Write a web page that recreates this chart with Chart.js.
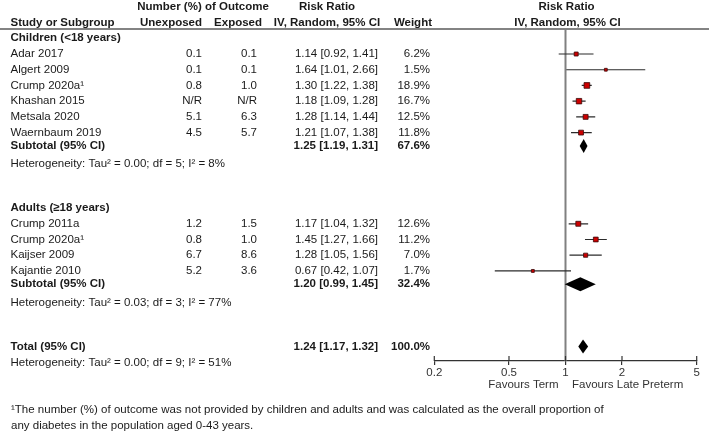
<!DOCTYPE html>
<html>
<head>
<meta charset="utf-8">
<script src="https://cdn.jsdelivr.net/npm/chart.js@4/dist/chart.umd.min.js"></script>
<style>
html,body{margin:0;padding:0;background:#fff;}
#wrap{width:709px;height:432px;}
</style>
</head>
<body>
<div id="wrap"><canvas id="c" width="709" height="432"></canvas></div>
<script>
// ---------- data ----------
const groupLabels = ["Children (<18 years)", "Adults (\u226518 years)"];

const childStudies   = ["Adar 2017", "Algert 2009", "Crump 2020a\u00B9", "Khashan 2015", "Metsala 2020", "Waernbaum 2019"];
const childUnexposed = ["0.1", "0.1", "0.8", "N/R", "5.1", "4.5"];
const childExposed   = ["0.1", "0.1", "1.0", "N/R", "6.3", "5.7"];
const childRR        = [1.14, 1.64, 1.30, 1.18, 1.28, 1.21];
const childLower     = [0.92, 1.01, 1.22, 1.09, 1.14, 1.07];
const childUpper     = [1.41, 2.66, 1.38, 1.28, 1.44, 1.38];
const childWeight    = [6.2, 1.5, 18.9, 16.7, 12.5, 11.8];

const adultStudies   = ["Crump 2011a", "Crump 2020a\u00B9", "Kaijser 2009", "Kajantie 2010"];
const adultUnexposed = ["1.2", "0.8", "6.7", "5.2"];
const adultExposed   = ["1.5", "1.0", "8.6", "3.6"];
const adultRR        = [1.17, 1.45, 1.28, 0.67];
const adultLower     = [1.04, 1.27, 1.05, 0.42];
const adultUpper     = [1.32, 1.66, 1.56, 1.07];
const adultWeight    = [12.6, 11.2, 7.0, 1.7];

const subtotalRR     = [1.25, 1.20];
const subtotalLower  = [1.19, 0.99];
const subtotalUpper  = [1.31, 1.45];
const subtotalWeight = [67.6, 32.4];
const subtotalHet    = ["Heterogeneity: Tau\u00B2 = 0.00; df = 5; I\u00B2 = 8%",
                        "Heterogeneity: Tau\u00B2 = 0.03; df = 3; I\u00B2 = 77%"];

const totalRR = 1.24, totalLower = 1.17, totalUpper = 1.32, totalWeight = 100.0;
const totalHet = "Heterogeneity: Tau\u00B2 = 0.00; df = 9; I\u00B2 = 51%";

const xTickValues = [0.2, 0.5, 1, 2, 5];
const nullValue = 1;
const favoursLeft = "Favours Term";
const favoursRight = "Favours Late Preterm";
const footnoteLines = [
  "\u00B9The number (%) of outcome was not provided by children and adults and was calculated as the overall proportion of",
  "any diabetes in the population aged 0-43 years."
];

// ---------- row layout (row steps, not data) ----------
const STEP = 1, SUB_STEP = 0.85, HET_STEP = 1.15, GAP_STEP = 2.8, TOTAL_HET_STEP = 1.05;
const groups = [
  {label: groupLabels[0], studies: childStudies, unexp: childUnexposed, exp: childExposed, rr: childRR, lo: childLower, hi: childUpper, w: childWeight},
  {label: groupLabels[1], studies: adultStudies, unexp: adultUnexposed, exp: adultExposed, rr: adultRR, lo: adultLower, hi: adultUpper, w: adultWeight}
];
const studyRows = [], textRows = [], summaryRows = [];
let r = 0;
groups.forEach((g, gi) => {
  textRows.push({row: r, kind: 'group', label: g.label});
  g.studies.forEach((s, i) => {
    r += STEP;
    studyRows.push({row: r, name: s, unexp: g.unexp[i], exp: g.exp[i], rr: g.rr[i], lo: g.lo[i], hi: g.hi[i], w: g.w[i]});
  });
  r += SUB_STEP;
  summaryRows.push({row: r, label: "Subtotal (95% CI)", rr: subtotalRR[gi], lo: subtotalLower[gi], hi: subtotalUpper[gi], w: subtotalWeight[gi]});
  r += HET_STEP;
  textRows.push({row: r, kind: 'het', label: subtotalHet[gi]});
  r += GAP_STEP;
});
summaryRows.push({row: r, label: "Total (95% CI)", rr: totalRR, lo: totalLower, hi: totalUpper, w: totalWeight});
r += TOTAL_HET_STEP;
textRows.push({row: r, kind: 'het', label: totalHet});

const rrText = (rr, lo, hi) => `${rr.toFixed(2)} [${lo.toFixed(2)}, ${hi.toFixed(2)}]`;

// ---------- datasets ----------
const ciDatasets = studyRows.map(s => ({
  type: 'scatter',
  data: [{x: s.lo, y: s.row}, {x: s.hi, y: s.row}],
  showLine: true,
  borderColor: '#2b2b2b',
  borderWidth: 1.2,
  pointRadius: 0,
  order: 2
}));
const squareDataset = {
  type: 'scatter',
  data: studyRows.map(s => ({x: s.rr, y: s.row, w: s.w})),
  pointStyle: 'rect',
  pointRadius: ctx => 1.2 + 0.65 * Math.sqrt(ctx.raw ? ctx.raw.w : 1),
  backgroundColor: '#cc0000',
  borderColor: '#3a0a0a',
  borderWidth: 0.8,
  order: 1
};

const FONT = '"Liberation Sans", Arial, Helvetica, sans-serif';
const TXT = '#1a1a1a';

const forestPlugin = {
  id: 'forest',
  beforeDatasetsDraw(chart) {
    const {ctx, chartArea, scales: {x}} = chart;
    ctx.save();
    ctx.strokeStyle = '#5a5a5a';
    ctx.lineWidth = 1.5;
    ctx.beginPath();
    ctx.moveTo(0, chartArea.top);
    ctx.lineTo(chart.width, chartArea.top);
    ctx.stroke();
    const px = x.getPixelForValue(nullValue);
    ctx.strokeStyle = '#808080';
    ctx.lineWidth = 2;
    ctx.beginPath();
    ctx.moveTo(px, chartArea.top);
    ctx.lineTo(px, chartArea.bottom);
    ctx.stroke();
    ctx.restore();
  },
  afterDatasetsDraw(chart) {
    const {ctx, scales: {x, y}} = chart;
    ctx.save();
    ctx.fillStyle = '#000';
    summaryRows.forEach(s => {
      const cy = y.getPixelForValue(s.row);
      const xl = x.getPixelForValue(s.lo), xm = x.getPixelForValue(s.rr), xh = x.getPixelForValue(s.hi);
      const h = 7;
      ctx.beginPath();
      ctx.moveTo(xl, cy);
      ctx.lineTo(xm, cy - h);
      ctx.lineTo(xh, cy);
      ctx.lineTo(xm, cy + h);
      ctx.closePath();
      ctx.fill();
    });
    ctx.restore();
  },
  afterDraw(chart) {
    const {ctx, chartArea, scales: {x, y}} = chart;
    ctx.save();
    ctx.fillStyle = TXT;
    ctx.textBaseline = 'middle';
    const put = (t, px, py, align, bold, size) => {
      ctx.font = `${bold ? 'bold ' : ''}${size || 11.5}px ${FONT}`;
      ctx.textAlign = align;
      ctx.fillText(t, px, py);
    };
    const yr = v => y.getPixelForValue(v);
    const colStudy = 10.5, colUnexp = 202, colExp = 257, colRR = 378, colW = 430;
    put("Number (%) of Outcome", 203, yr(-2), 'center', true);
    put("Risk Ratio", 327, yr(-2), 'center', true);
    put("Risk Ratio", x.getPixelForValue(nullValue) + 1, yr(-2), 'center', true);
    put("Study or Subgroup", colStudy, yr(-1), 'left', true);
    put("Unexposed", 202, yr(-1), 'right', true);
    put("Exposed", 262, yr(-1), 'right', true);
    put("IV, Random, 95% CI", 327, yr(-1), 'center', true);
    put("Weight", 432, yr(-1), 'right', true);
    put("IV, Random, 95% CI", x.getPixelForValue(nullValue) + 2, yr(-1), 'center', true);
    textRows.forEach(t => {
      put(t.label, colStudy, yr(t.row), 'left', t.kind === 'group');
    });
    studyRows.forEach(s => {
      const py = yr(s.row);
      put(s.name, colStudy, py, 'left', false);
      put(s.unexp, colUnexp, py, 'right', false);
      put(s.exp, colExp, py, 'right', false);
      put(rrText(s.rr, s.lo, s.hi), colRR, py, 'right', false);
      put(s.w.toFixed(1) + '%', colW, py, 'right', false);
    });
    summaryRows.forEach(s => {
      const py = yr(s.row);
      put(s.label, colStudy, py, 'left', true);
      put(rrText(s.rr, s.lo, s.hi), colRR, py, 'right', true);
      put(s.w.toFixed(1) + '%', colW, py, 'right', true);
    });
    ctx.strokeStyle = '#333';
    ctx.lineWidth = 1.2;
    xTickValues.forEach(v => {
      const px = x.getPixelForValue(v);
      ctx.beginPath();
      ctx.moveTo(px, chartArea.bottom - 5);
      ctx.lineTo(px, chartArea.bottom);
      ctx.stroke();
    });
    ctx.fillStyle = '#333';
    const p1 = x.getPixelForValue(nullValue);
    put(favoursLeft, p1 - 7, 385, 'right', false);
    put(favoursRight, p1 + 6.5, 385, 'left', false);
    ctx.fillStyle = TXT;
    footnoteLines.forEach((l, i) => put(l, 11, 410 + i * 16, 'left', false, 11.5));
    ctx.restore();
  }
};

new Chart(document.getElementById('c'), {
  type: 'scatter',
  data: {datasets: [...ciDatasets, squareDataset]},
  options: {
    responsive: false,
    animation: false,
    events: [],
    layout: {padding: {left: 434.3, right: 12.3, top: 29, bottom: 0}},
    plugins: {legend: {display: false}, tooltip: {enabled: false}},
    scales: {
      x: {
        type: 'logarithmic',
        min: 0.2,
        max: 5,
        afterBuildTicks(axis) { axis.ticks = xTickValues.map(v => ({value: v})); },
        afterFit(scale) { scale.height = 71; },
        ticks: {
          callback: v => String(v),
          font: {family: FONT, size: 11.5},
          color: '#333',
          padding: 1,
          maxRotation: 0,
          autoSkip: false
        },
        grid: {drawOnChartArea: false, drawTicks: true, tickLength: 4, color: '#333', lineWidth: 1.2},
        border: {color: '#333', width: 1.3}
      },
      y: {
        type: 'linear',
        reverse: true,
        min: -0.592,
        max: 20.53,
        display: false
      }
    }
  },
  plugins: [forestPlugin]
});
</script>
</body>
</html>
